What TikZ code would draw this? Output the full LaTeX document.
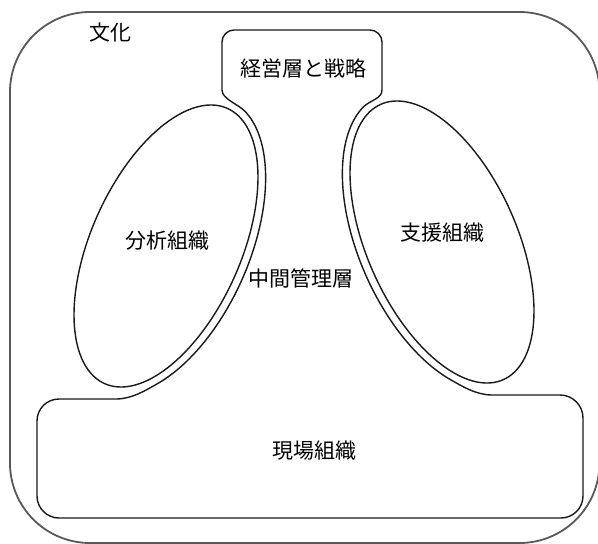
\documentclass[tikz,border=0pt]{standalone}
\usepackage{fontspec}
\newfontfamily\jp{Noto Sans CJK JP}
\begin{document}
\begin{tikzpicture}[x=1pt,y=-1pt,
  outerline/.style={draw=black!65,line width=1.8pt},
  mline/.style={draw=black!90,line width=1.4pt,line join=round},
  lbl/.style={font=\jp\fontsize{21}{25}\selectfont,inner sep=0pt}]
\useasboundingbox (0,0) rectangle (598,544);
\fill[white] (0,0) rectangle (598,544);
% culture frame
\draw[outerline,rounded corners=80] (10,12) rectangle (599.5,543);
% inner ellipses
\draw[mline] plot[domain=0:360,samples=145] ({166+61.29*cos(\x)-68.60*sin(\x)},{246-137.67*cos(\x)-30.54*sin(\x)}) -- cycle;
\draw[mline] plot[domain=0:360,samples=145] ({442-61.29*cos(\x)+68.60*sin(\x)},{242-137.67*cos(\x)-30.54*sin(\x)}) -- cycle;
% top box + middle line + bottom box (one contour)
\draw[mline] (222,90) -- (222,42) .. controls (222,35.4) and (227.4,30) .. (234,30)
  -- (370,30) .. controls (376.6,30) and (382,35.4) .. (382,42)
  -- (382,90) .. controls (382,99) and (370.1,100.0) .. (363.1,107.2)
  -- plot[domain=-12:-145,samples=70] ({442-64.54*cos(\x)+75.91*sin(\x)},{242-144.97*cos(\x)-33.80*sin(\x)})
  .. controls (461.8,386.0) and (476,395) .. (492,395)
  -- (560,395) .. controls (572.7,395) and (583,405.3) .. (583,418)
  -- (583,496) .. controls (583,508.1) and (573.1,518) .. (561,518)
  -- (59,518) .. controls (46.9,518) and (37,508.1) .. (37,496)
  -- (37,421) .. controls (37,408.8) and (46.8,399) .. (59,399)
  -- (116,399) .. controls (132,399) and (146.2,390.0) .. (156.7,384.1)
  -- plot[domain=-145:-12,samples=70] ({166+64.54*cos(\x)-75.91*sin(\x)},{246-144.97*cos(\x)-33.80*sin(\x)})
  .. controls (237.9,104.0) and (222,99) .. (222,90) -- cycle;
% labels
\node[lbl] (culture) at (110,33) {文化};
\node[lbl] (top) at (303,68) {経営層と戦略};
\node[lbl] (analysis) at (167,241) {分析組織};
\node[lbl] (support) at (442,233) {支援組織};
\node[lbl] (middle) at (301,278) {中間管理層};
\node[lbl] (field) at (314,451) {現場組織};
\end{tikzpicture}
\end{document}
